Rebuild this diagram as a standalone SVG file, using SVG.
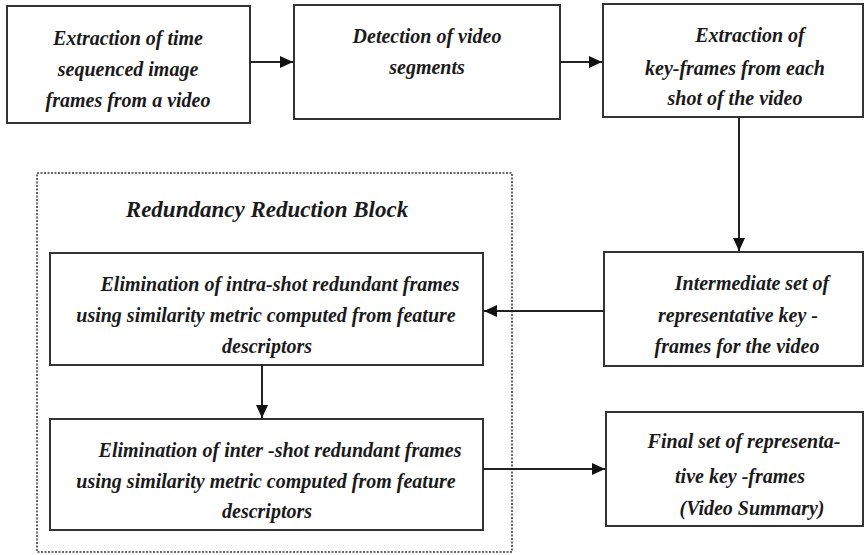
<svg xmlns="http://www.w3.org/2000/svg" width="868" height="555" viewBox="0 0 868 555">
<style>
.box{fill:#fff;stroke:#333;stroke-width:2}
.t{font-family:"Liberation Serif","Times New Roman",serif;font-weight:bold;font-style:italic;font-size:20px;fill:#1a1a1a;text-anchor:middle}
.c{stroke:#222;stroke-width:2;fill:none;marker-end:url(#ah)}
.dot{fill:none;stroke:#333;stroke-width:1.5;stroke-dasharray:2 1.5}
</style>
<defs>
<marker id="ah" markerUnits="userSpaceOnUse" markerWidth="14" markerHeight="14" refX="13" refY="7" orient="auto">
<path d="M0,1 L13,7 L0,13 Z" fill="#111"/>
</marker>
</defs>
<rect class="dot" x="37" y="173" width="475" height="379"/>
<g id="n1"><rect class="box" x="7" y="6" width="243" height="117"/>
<text class="t" x="128" y="45">Extraction of time</text>
<text class="t" x="128" y="76">sequenced image</text>
<text class="t" x="128" y="107">frames from a video</text></g>
<g id="n2"><rect class="box" x="294" y="5" width="266" height="114"/>
<text class="t" x="427" y="43">Detection of video</text>
<text class="t" x="427" y="74">segments</text></g>
<g id="n3"><rect class="box" x="603" y="4" width="260" height="113"/>
<text class="t" x="750" y="42">Extraction of</text>
<text class="t" x="735" y="75">key-frames from each</text>
<text class="t" x="735" y="105">shot of the video</text></g>
<g id="n4"><rect class="box" x="604" y="252" width="259" height="114"/>
<text class="t" x="752" y="290">Intermediate set of</text>
<text class="t" x="738" y="322">representative key -</text>
<text class="t" x="737" y="353">frames for the video</text></g>
<g id="title"><text class="t" x="267" y="217" style="font-size:23px">Redundancy Reduction Block</text></g>
<g id="n5"><rect class="box" x="50" y="253" width="433" height="112"/>
<text class="t" x="280" y="291">Elimination of intra-shot redundant frames</text>
<text class="t" x="266" y="322">using similarity metric computed from feature</text>
<text class="t" x="267" y="353">descriptors</text></g>
<g id="n6"><rect class="box" x="50" y="419" width="433" height="111"/>
<text class="t" x="280" y="457">Elimination of inter -shot redundant frames</text>
<text class="t" x="266" y="488">using similarity metric computed from feature</text>
<text class="t" x="267" y="518">descriptors</text></g>
<g id="n7"><rect class="box" x="606" y="412" width="257" height="114"/>
<text class="t" x="744" y="448">Final set of representa-</text>
<text class="t" x="740" y="483">tive key -frames</text>
<text class="t" x="752" y="515">(Video Summary)</text></g>
<g id="connectors">
<line class="c" x1="250" y1="62" x2="293" y2="62"/>
<line class="c" x1="560" y1="62" x2="602" y2="62"/>
<line class="c" x1="739" y1="117" x2="739" y2="251"/>
<line class="c" x1="604" y1="311" x2="484" y2="311"/>
<line class="c" x1="262" y1="365" x2="262" y2="418"/>
<line class="c" x1="483" y1="469" x2="605" y2="469"/>
</g>
</svg>
